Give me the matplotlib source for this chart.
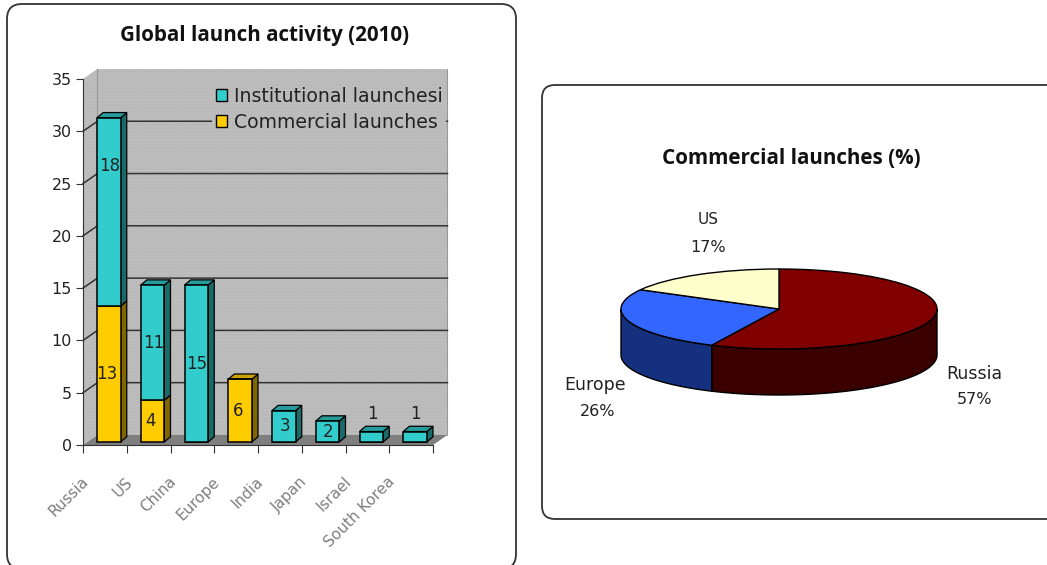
import numpy as np
import matplotlib
matplotlib.use('Agg')
import matplotlib.pyplot as plt
from matplotlib.patches import FancyBboxPatch, Polygon, Patch
from matplotlib.transforms import ScaledTranslation

plt.rcParams['font.family'] = ['DejaVu Sans']

# data
countries = ['Russia', 'US', 'China', 'Europe', 'India', 'Japan', 'Israel', 'South Korea']
commercial = [13, 4, 0, 6, 0, 0, 0, 0]
institutional = [18, 11, 15, 0, 3, 2, 1, 1]
y_ticks = [0, 5, 10, 15, 20, 25, 30, 35]

pie_labels = ['Russia', 'Europe', 'US']
pie_values = [57, 26, 17]

teal = ['#33cccc', '#1b6a6a', '#279c9c']
gold = ['#ffcc00', '#806600', '#c9a200']
pie_top = ['#800000', '#3366ff', '#ffffcc']
pie_side = ['#3a0000', '#15307f', '#808066']
wall = '#b9b9b9'
stipple = '#c2c2c2'
text_col = '#222222'

W, H = 1047, 565
fig = plt.figure(figsize=(W / 100, H / 100), dpi=100, facecolor='white')

# panels and titles, in pixel coordinates
bg = fig.add_axes([0, 0, 1, 1])
bg.set_xlim(0, W)
bg.set_ylim(H, 0)
bg.axis('off')
bg.add_patch(FancyBboxPatch((7, 4), 509, 565, boxstyle='round,pad=0,rounding_size=15',
                            fc='white', ec='#333333', lw=1.3))
bg.add_patch(FancyBboxPatch((542, 85), 560, 434, boxstyle='round,pad=0,rounding_size=13',
                            fc='white', ec='#333333', lw=1.3))
bg.text(265, 36, 'Global launch activity (2010)', ha='center', va='center',
        fontsize=14.8, fontweight='bold', family='Open Sans', color='#111111')
bg.text(791, 158, 'Commercial launches (%)', ha='center', va='center',
        fontsize=14.9, fontweight='bold', family='Open Sans', color='#111111')

# bar chart
ax = fig.add_axes([83 / W, (H - 445) / H, 350 / W, 366 / H])
ax.patch.set_visible(False)
ax.set_xlim(0, 8)
ax.set_ylim(0, 35)

# oblique offsets of the 3D box, in data units
wall_dx, wall_dy = 0.33, 0.96
bar_dx, bar_dy = 0.09, 0.29
side_dx, side_dy = 0.14, 0.5
bar_w = 0.54


def poly(points, fc, ec='none', z=1, lw=0.0, hatch=None):
    p = Polygon(points, closed=True, fc=fc, ec=ec, lw=lw, zorder=z, clip_on=False, hatch=hatch)
    ax.add_patch(p)
    return p


poly([(0, 0), (wall_dx, wall_dy), (wall_dx, 35 + wall_dy), (0, 35)], wall, stipple, hatch='.....')
poly([(wall_dx, wall_dy), (8 + wall_dx, wall_dy), (8 + wall_dx, 35 + wall_dy), (wall_dx, 35 + wall_dy)],
     wall, stipple, hatch='.....')
poly([(0, 0), (8, 0), (8 + wall_dx, wall_dy), (wall_dx, wall_dy)], '#7f7f7f')
ax.plot([wall_dx, wall_dx], [wall_dy, 35 + wall_dy], color='#999999', lw=0.8, zorder=2, clip_on=False)
ax.plot([8 + wall_dx, 8 + wall_dx], [wall_dy, 35 + wall_dy], color='#999999', lw=0.8, zorder=2, clip_on=False)

for v in y_ticks[1:-1]:
    ax.plot([0, wall_dx, 8 + wall_dx], [v, v + wall_dy, v + wall_dy], color='#333333',
            lw=1.1, zorder=2, clip_on=False)

x_pos = np.arange(len(countries)) + 0.5 + bar_dx
comm = np.array(commercial)
inst = np.array(institutional)


def stack(bottom, values, cols, z):
    for x, b, v in zip(x_pos, bottom, values):
        if v == 0:
            continue
        l, r = x + bar_w / 2, x + bar_w / 2 + side_dx
        y0, y1 = b + bar_dy, b + v + bar_dy
        poly([(l, y0), (r, y0 + side_dy), (r, y1 + side_dy), (l, y1)], cols[1], 'black', z, 0.9)
        poly([(x - bar_w / 2, y1), (l, y1), (r, y1 + side_dy), (x - bar_w / 2 + side_dx, y1 + side_dy)],
             cols[2], 'black', z, 0.9)
    return ax.bar(x_pos, values, bar_w, bottom=bottom + bar_dy, color=cols[0], edgecolor='black',
                  linewidth=1.1, zorder=z + 1, clip_on=False)


bars_c = stack(np.zeros(len(comm)), comm, gold, 4)
bars_i = stack(comm, inst, teal, 6)

for x, c, i in zip(x_pos, comm, inst):
    if c:
        ax.text(x - 0.05, c / 2 + bar_dy, str(c), ha='center', va='center', fontsize=12,
                color=text_col, zorder=10)
    if i:
        y = c + i / 2 + bar_dy
        if i == 18:
            y += 4.4
        if i == 1:
            y += 2.2
        ax.text(x + 0.02, y, str(i), ha='center', va='center', fontsize=12, color=text_col, zorder=10)

for s in ['top', 'right']:
    ax.spines[s].set_visible(False)
for s in ['left', 'bottom']:
    ax.spines[s].set_color('#333333')
    ax.spines[s].set_zorder(3)
ax.set_yticks(y_ticks)
ax.tick_params(axis='y', length=5, color='#333333', labelsize=11.5, labelcolor=text_col, pad=3)
ax.set_xticks(np.arange(9))
ax.set_xticklabels([])
ax.tick_params(axis='x', which='major', length=6, color='#333333')
ax.set_xticks(np.arange(len(countries)) + 0.5, minor=True)
ax.set_xticklabels(countries, minor=True, rotation=45, ha='right', va='top',
                   rotation_mode='anchor', fontsize=11, color='#7f7f7f')
ax.tick_params(axis='x', which='minor', length=0, pad=21)
shift = ScaledTranslation(-24 / 100, 0, fig.dpi_scale_trans)
for lab in ax.get_xticklabels(minor=True):
    lab.set_transform(lab.get_transform() + shift)

leg = ax.legend([Patch(fc=teal[0], ec='black'), Patch(fc=gold[0], ec='black')],
                ['Institutional launchesi', 'Commercial launches'],
                loc='upper left', bbox_to_anchor=(2.95, 34.6), bbox_transform=ax.transData,
                borderaxespad=0, borderpad=0.2, fontsize=13.6, handlelength=0.6, handleheight=0.6,
                handletextpad=0.35, labelspacing=0.35, fancybox=False,
                facecolor=wall, edgecolor=stipple, framealpha=1, labelcolor=text_col)
leg.get_frame().set_linewidth(0)
leg.get_frame().set_hatch('.....')
leg.set_zorder(3)

# pie chart: the axes box is the top ellipse, the rim hangs below it
pax = fig.add_axes([621 / W, (H - 349) / H, 316 / W, 80 / H])
depth = 46 / 40
edges = np.cumsum([0] + pie_values) / sum(pie_values) * 360.0

for i in range(len(pie_values)):
    a0, a1 = max(edges[i], 90), min(edges[i + 1], 270)
    if a1 <= a0:
        continue
    t = np.radians(np.linspace(a0, a1, 80))
    xs, ys = np.sin(t), np.cos(t)
    pts = np.r_[np.c_[xs, ys], np.c_[xs, ys - depth][::-1]]
    pax.add_patch(Polygon(pts, closed=True, fc=pie_side[i], ec='black', lw=1, zorder=1, clip_on=False))

wedges, _ = pax.pie(pie_values, colors=pie_top, startangle=90, counterclock=False, radius=1,
                    wedgeprops={'edgecolor': 'black', 'linewidth': 1})
for w in wedges:
    w.set_clip_on(False)
    w.set_zorder(2)
pax.set_aspect('auto')
pax.set_xlim(-1, 1)
pax.set_ylim(-1, 1)

# pie labels sit round the disc in pixel coordinates
label_at = {'Russia': (974, 374), 'Europe': (595, 385), 'US': (708, 220)}
pct_at = {'Russia': (974, 400), 'Europe': (598, 412), 'US': (708, 247)}
for name, val in zip(pie_labels, pie_values):
    bg.text(*label_at[name], name, ha='center', va='center', fontsize=12.5 if name != 'US' else 11,
            color=text_col)
    bg.text(*pct_at[name], '%d%%' % val, ha='center', va='center', fontsize=11.5, color=text_col)

fig.savefig('out.png', dpi=100)
